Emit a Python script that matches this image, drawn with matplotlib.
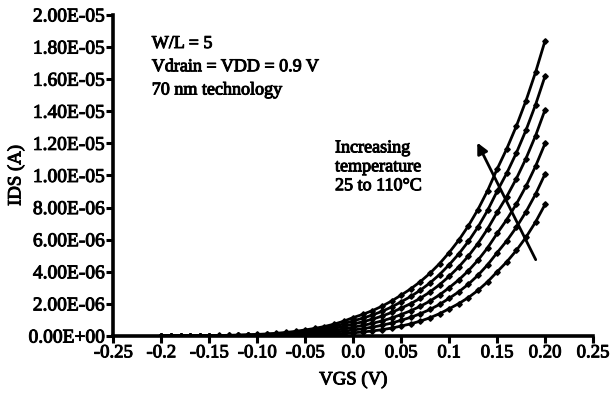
import numpy as np
import matplotlib
matplotlib.use("Agg")
import matplotlib.pyplot as plt
import matplotlib.patheffects as pe

# VGS sweep (V) and drain current for each temperature (units of 1e-6 A)
vgs = [-0.20, -0.19, -0.18, -0.17, -0.16, -0.15, -0.14, -0.13, -0.12, -0.11,
       -0.10, -0.09, -0.08, -0.07, -0.06, -0.05, -0.04, -0.03, -0.02, -0.01,
       0.00, 0.01, 0.02, 0.03, 0.04, 0.05, 0.06, 0.07, 0.08, 0.09,
       0.10, 0.11, 0.12, 0.13, 0.14, 0.15, 0.16, 0.17, 0.18, 0.19, 0.20]

ids_1 = [0.006, 0.008, 0.011, 0.014, 0.019, 0.025, 0.033, 0.044, 0.058, 0.076,
         0.100, 0.131, 0.171, 0.223, 0.291, 0.380, 0.474, 0.592, 0.738, 0.921,
         1.150, 1.349, 1.582, 1.856, 2.180, 2.550, 2.940, 3.390, 3.910, 4.510,
         5.200, 5.970, 6.860, 7.880, 9.050, 10.40, 11.66, 13.07, 14.65, 16.42, 18.40]
ids_2 = [0.0049, 0.0065, 0.0086, 0.0115, 0.0152, 0.0202, 0.0267, 0.0352, 0.0465, 0.0613,
         0.081, 0.106, 0.139, 0.181, 0.237, 0.310, 0.3875, 0.484, 0.605, 0.757,
         0.945, 1.111, 1.307, 1.537, 1.808, 2.130, 2.466, 2.856, 3.307, 3.830,
         4.440, 5.114, 5.892, 6.787, 7.819, 9.020, 10.14, 11.40, 12.81, 14.40, 16.20]
ids_3 = [0.0038, 0.0050, 0.0067, 0.0089, 0.0118, 0.0157, 0.0207, 0.0274, 0.0361, 0.0477,
         0.063, 0.0825, 0.108, 0.1416, 0.1855, 0.243, 0.304, 0.381, 0.477, 0.598,
         0.749, 0.886, 1.048, 1.240, 1.467, 1.736, 2.022, 2.356, 2.745, 3.198,
         3.720, 4.304, 4.980, 5.762, 6.666, 7.700, 8.686, 9.798, 11.05, 12.47, 14.10]
ids_4 = [0.0027, 0.0036, 0.0048, 0.0063, 0.0084, 0.0112, 0.0148, 0.0195, 0.0258, 0.0340,
         0.045, 0.0591, 0.0777, 0.1021, 0.1342, 0.176, 0.2214, 0.2785, 0.3504, 0.4408,
         0.554, 0.661, 0.789, 0.941, 1.122, 1.340, 1.576, 1.853, 2.179, 2.563,
         3.010, 3.498, 4.064, 4.723, 5.488, 6.390, 7.246, 8.217, 9.318, 10.57, 12.00]
ids_5 = [0.0018, 0.0024, 0.0031, 0.0041, 0.0054, 0.0071, 0.0093, 0.0123, 0.0161, 0.0212,
         0.028, 0.0372, 0.0493, 0.0654, 0.0868, 0.115, 0.1458, 0.1849, 0.2345, 0.2973,
         0.377, 0.456, 0.552, 0.668, 0.808, 0.979, 1.166, 1.389, 1.654, 1.970,
         2.350, 2.754, 3.228, 3.783, 4.434, 5.190, 5.927, 6.769, 7.730, 8.828, 10.10]
ids_6 = [0.0008, 0.00104, 0.00136, 0.00177, 0.0023, 0.003, 0.00396, 0.00523, 0.0069, 0.0091,
         0.012, 0.0163, 0.0221, 0.0299, 0.0406, 0.055, 0.0712, 0.0922, 0.1194, 0.1546,
         0.200, 0.251, 0.315, 0.394, 0.494, 0.620, 0.759, 0.929, 1.137, 1.392,
         1.700, 2.018, 2.395, 2.843, 3.375, 4.000, 4.616, 5.327, 6.147, 7.094, 8.200]

curves = [ids_1, ids_2, ids_3, ids_4, ids_5, ids_6]

x_ticks = [-0.25, -0.2, -0.15, -0.10, -0.05, 0.0, 0.05, 0.1, 0.15, 0.20, 0.25]
x_tick_labels = ["-0.25", "-0.2", "-0.15", "-0.10", "-0.05", "0.0", "0.05", "0.1", "0.15", "0.20", "0.25"]
y_ticks = [0, 2e-6, 4e-6, 6e-6, 8e-6, 1e-5, 1.2e-5, 1.4e-5, 1.6e-5, 1.8e-5, 2e-5]
y_tick_labels = ["0.00E+00", "2.00E-06", "4.00E-06", "6.00E-06", "8.00E-06", "1.00E-05",
                 "1.20E-05", "1.40E-05", "1.60E-05", "1.80E-05", "2.00E-05"]

plt.rcParams["font.family"] = ["Liberation Serif", "DejaVu Serif"]
# thicken the regular serif glyphs a little, like the scanned figure
heavy = [pe.withStroke(linewidth=0.7, foreground="black")]

fig = plt.figure(figsize=(6.13, 3.93), dpi=100)
ax = fig.add_axes([0.185, 0.145, 0.7825, 0.817])

for ids in curves:
    ax.plot(vgs, np.array(ids) * 1e-6, color="black", lw=2.0,
            marker="D", markersize=2.8)

ax.set_xlim(-0.25, 0.25)
ax.set_ylim(0, 2e-5)
ax.set_xticks(x_ticks)
ax.set_xticklabels(x_tick_labels)
ax.set_yticks(y_ticks)
ax.set_yticklabels(y_tick_labels)
ax.tick_params(width=2.2, length=5, pad=1, direction="out")
ax.tick_params(axis="y", labelsize=14)
ax.tick_params(axis="x", labelsize=13.5)
for lab in ax.get_xticklabels() + ax.get_yticklabels():
    lab.set_path_effects(heavy)

for side in ["top", "right"]:
    ax.spines[side].set_visible(False)
for side in ["left", "bottom"]:
    ax.spines[side].set_linewidth(2.6)

ax.set_xlabel("VGS (V)", fontsize=13.5, labelpad=7, path_effects=heavy)
ax.set_ylabel("IDS (A)", fontsize=13.5, labelpad=3, path_effects=heavy)

ax.text(-0.21, 1.875e-5, "W/L = 5\nVdrain = VDD = 0.9 V\n70 nm technology",
        fontsize=13, va="top", ha="left", linespacing=1.48, path_effects=heavy)
ax.text(-0.019, 1.225e-5, "Increasing\ntemperature\n25 to 110\u00b0C",
        fontsize=13, va="top", ha="left", linespacing=1.15, path_effects=heavy)

ax.annotate("", xy=(0.128, 1.22e-5), xytext=(0.1915, 4.6e-6),
            arrowprops=dict(arrowstyle="-|>", color="black", lw=2.0,
                            mutation_scale=16))

fig.savefig("out.png", dpi=100)
